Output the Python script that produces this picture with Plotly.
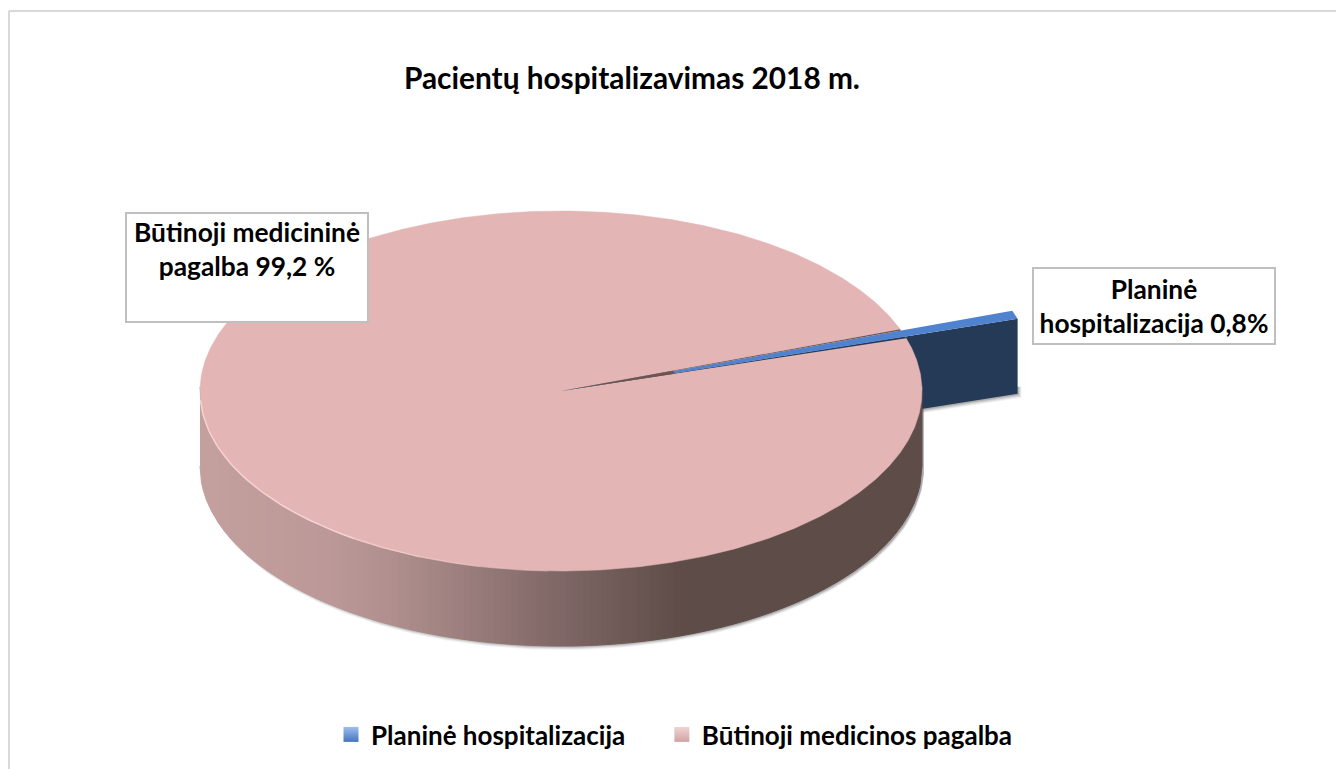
import numpy as np
import plotly.graph_objects as go

# ---- data ----
categories = ["Planinė hospitalizacija\u00a0\u00a0\u00a0\u00a0\u00a0", "Būtinoji medicinos pagalba"]
values = [0.8, 99.2]
title_text = "Pacientų hospitalizavimas 2018 m."
label_planned = "Planinė<br>hospitalizacija 0,8%"
label_urgent = "Būtinoji medicininė<br>pagalba 99,2 %"

# ---- style / projection ----
FONT = "Lato"
CX, CY, RX, RY, DEPTH = 561, 391, 361, 180, 75
START_DEG = 17.6      # where the exploded slice begins
REACH = 1.327         # exploded slice reach
DRAWN_WIDTH = 0.7     # drawn share of the slice's angular width
GAP_WIDTH = 0.85      # share of the slice's angular width cut out of the pie top
PINK, BLUE, NAVY, BROWN = "#e3b5b4", "#4f82cf", "#243a57", "#6e5450"
GRAD_X = [200, 330, 400, 550, 685, 922]
GRAD_R = [196, 188, 174, 130, 94, 94]
GRAD_G = [160, 153, 142, 106, 76, 76]
GRAD_B = [159, 152, 141, 105, 72, 72]


def pt(r, deg):
    a = np.radians(deg)
    return CX + r * RX * np.cos(a), CY - r * RY * np.sin(a)


def poly(xs, ys, color, line=0):
    return go.Scatter(x=list(xs), y=list(ys), mode="lines", fill="toself", fillcolor=color,
                      line=dict(color=color, width=line), hoverinfo="skip", showlegend=False)


fig = go.Figure()
sweep = values[0] * 3.6
blue_end = START_DEG + sweep * DRAWN_WIDTH
gap_end = START_DEG + sweep * GAP_WIDTH
tip1 = pt(REACH, blue_end)
tip2 = pt(REACH, START_DEG)

# soft shadows
for i in range(1, 5):
    shade = f"rgba(90,90,90,{0.28 - i * 0.05:.2f})"
    t = np.linspace(-2, -176, 120)
    bx, by = pt(1, t)
    fig.add_trace(poly(np.r_[bx + 2, bx[::-1] + 2], np.r_[by + DEPTH + i, by[::-1]], shade))
    fig.add_trace(poly([tip2[0] + i, tip2[0] + i, 900, 900],
                       [tip2[1] + 68, tip2[1] + DEPTH + i, tip2[1] + DEPTH + i + 19, tip2[1] + 68], shade))

# exploded slice outer wall, behind the pie
fig.add_trace(poly([tip2[0], tip2[0], CX, CX], [tip2[1], tip2[1] + DEPTH, CY + DEPTH, CY], NAVY))

# pie side wall: gradient strips following the front of the ellipse
edges = np.arange(200, 923, 6.0)
edges[-1] = 922
for x0, x1 in zip(edges[:-1], edges[1:]):
    xs = np.linspace(x0, x1, 5)
    ys = CY + RY * np.sqrt(np.clip(1 - ((xs - CX) / RX) ** 2, 0, 1))
    xm = (x0 + x1) / 2
    col = "rgb(%d,%d,%d)" % (np.interp(xm, GRAD_X, GRAD_R), np.interp(xm, GRAD_X, GRAD_G), np.interp(xm, GRAD_X, GRAD_B))
    fig.add_trace(poly(np.r_[xs, xs[::-1]], np.r_[ys - 4, ys[::-1] + DEPTH], col, line=1))

# large slice top
t = np.linspace(gap_end, START_DEG + 360, 720)
tx, ty = pt(1, t)
fig.add_trace(poly(np.r_[CX, tx], np.r_[CY, ty], PINK, line=0.5))

# rim highlight on the front left, fading out toward the front
for a0, a1, alpha in [(183, 235, 1.0), (235, 247, 0.75), (247, 257, 0.5), (257, 268, 0.25)]:
    t = np.linspace(a0, a1, 40)
    hx, hy = pt(1, t)
    fig.add_trace(go.Scatter(x=hx, y=hy, mode="lines", line=dict(color=f"rgba(246,211,210,{alpha})", width=1.5),
                             hoverinfo="skip", showlegend=False))

# thin cut faces and the small slice top
low = pt(1.0, START_DEG - 0.6)
mid = pt(1.0, START_DEG)
fig.add_trace(poly([CX, low[0], mid[0]], [CY, low[1], mid[1]], NAVY))
u = pt(1.0, blue_end)
v = pt(1.0, gap_end)
fig.add_trace(poly([CX, tip2[0], tip1[0]], [CY, tip2[1], tip1[1]], BLUE))
fig.add_trace(poly([CX, u[0], v[0]], [CY, u[1], v[1]], BROWN))
s0 = pt(0.33, START_DEG - 0.6)
s1 = pt(0.33, gap_end)
fig.add_trace(poly([CX, s0[0], s1[0]], [CY, s0[1], s1[1]], BROWN))

# legend entries
legend_colors = [("#4575bd", "#9cc0ee"), ("#d0a3a2", "#f0d4d3")]
for name, (c0, c1) in zip(categories, legend_colors):
    fig.add_trace(go.Scatter(x=[None], y=[None], mode="markers", name=name,
                             marker=dict(symbol="square", size=15, color=c1,
                                         gradient=dict(type="vertical", color=c0),
                                         line=dict(width=0))))

common = dict(family=FONT, size=26.3, color="#000000")
fig.add_annotation(x=632, y=77, text=f"<b>{title_text}</b>", showarrow=False, xref="x", yref="y",
                   font=dict(family=FONT, size=29.8, color="#000000"))
fig.add_annotation(x=247, y=267.5, text=f"<b>{label_urgent}</b>", showarrow=False, width=236, height=103,
                   align="center", valign="top", bgcolor="#ffffff", bordercolor="#bfbfbf", borderwidth=2,
                   borderpad=2, font=common)
fig.add_annotation(x=1154, y=306, text=f"<b>{label_planned}</b>", showarrow=False, width=236, height=70,
                   align="center", valign="middle", bgcolor="#ffffff", bordercolor="#bfbfbf", borderwidth=2,
                   borderpad=2, font=common)

# chart frame
frame = dict(color="#d9d9d9", width=2)
fig.add_shape(type="line", x0=9, x1=1336, y0=11, y1=11, line=frame)
fig.add_shape(type="line", x0=9, x1=9, y0=11, y1=769, line=frame)

fig.update_layout(
    width=1336, height=769, margin=dict(l=0, r=0, t=0, b=0),
    paper_bgcolor="#ffffff", plot_bgcolor="#ffffff",
    xaxis=dict(range=[0, 1336], visible=False, fixedrange=True),
    yaxis=dict(range=[769, 0], visible=False, fixedrange=True),
    legend=dict(orientation="h", x=331 / 1336, y=1 - 711 / 769, xanchor="left", yanchor="top",
                itemsizing="trace",
                font=dict(family=FONT, size=26, color="#000000", weight="bold"),
                bgcolor="rgba(0,0,0,0)"),
    showlegend=True,
)
fig.write_html("out.html", config={"displayModeBar": False},
               post_script="document.body.style.margin='0';document.body.style.overflow='hidden';")
